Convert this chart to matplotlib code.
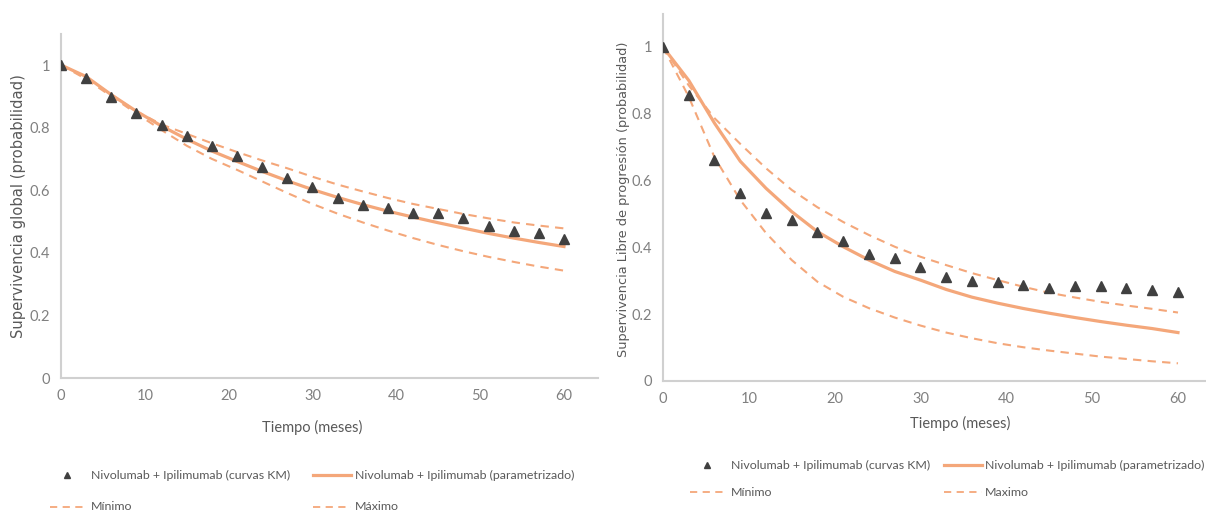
import matplotlib
matplotlib.use('Agg')
import matplotlib.pyplot as plt
from matplotlib.lines import Line2D

# months (every 3)
months = list(range(0, 61, 3))

# Overall survival (left)
os_km = [1.0, 0.959, 0.899, 0.848, 0.807, 0.773, 0.741, 0.709, 0.673, 0.638, 0.611,
         0.576, 0.553, 0.544, 0.528, 0.526, 0.510, 0.487, 0.471, 0.464, 0.443]
os_param = [1.0, 0.963, 0.905, 0.852, 0.805, 0.763, 0.725, 0.692, 0.660, 0.630, 0.602,
            0.577, 0.554, 0.533, 0.514, 0.496, 0.479, 0.462, 0.447, 0.433, 0.420]
os_max = [1.0, 0.960, 0.905, 0.852, 0.810, 0.780, 0.750, 0.722, 0.695, 0.670, 0.643,
          0.618, 0.596, 0.575, 0.556, 0.540, 0.524, 0.510, 0.497, 0.487, 0.478]
os_min = [1.0, 0.955, 0.900, 0.845, 0.792, 0.742, 0.700, 0.665, 0.628, 0.591, 0.556,
          0.525, 0.497, 0.471, 0.447, 0.425, 0.405, 0.387, 0.371, 0.356, 0.343]

# Progression-free survival (right)
pfs_km = [1.0, 0.856, 0.662, 0.562, 0.504, 0.482, 0.445, 0.420, 0.379, 0.369, 0.340,
          0.312, 0.299, 0.296, 0.287, 0.277, 0.283, 0.285, 0.278, 0.271, 0.266]
pfs_param = [1.0, 0.900, 0.772, 0.658, 0.577, 0.507, 0.447, 0.402, 0.362, 0.328, 0.302,
             0.274, 0.251, 0.233, 0.217, 0.203, 0.190, 0.178, 0.167, 0.157, 0.145]
pfs_max = [1.0, 0.885, 0.787, 0.710, 0.637, 0.572, 0.520, 0.476, 0.437, 0.402, 0.372,
           0.347, 0.323, 0.302, 0.282, 0.264, 0.250, 0.237, 0.226, 0.216, 0.205]
pfs_min = [1.0, 0.851, 0.670, 0.542, 0.443, 0.362, 0.297, 0.252, 0.218, 0.190, 0.166,
           0.145, 0.128, 0.113, 0.101, 0.091, 0.082, 0.073, 0.066, 0.059, 0.053]

yticks = [0, 0.2, 0.4, 0.6, 0.8, 1]
ytick_labels = ["0", "0.2", "0.4", "0.6", "0.8", "1"]
xticks = [0, 10, 20, 30, 40, 50, 60]

ORANGE = '#F4A77A'
DARK = '#404040'
GREY_TXT = '#808080'
LBL_TXT = '#595959'
SPINE = '#D0D0D0'
NARROW = ['Lato', 'DejaVu Sans']

W, H = 1206, 515
fig = plt.figure(figsize=(W / 100, H / 100), dpi=100)


def make_axes(rect, xmax, km, param, mx, mn, ylabel, ylabel_size, label_xy, xlabel_xy):
    ax = fig.add_axes(rect)
    ax.plot(months, mx, '--', color=ORANGE, lw=1.5, dashes=(4, 3))
    ax.plot(months, mn, '--', color=ORANGE, lw=1.5, dashes=(4, 3))
    ax.plot(months, param, '-', color=ORANGE, lw=2.3)
    ax.plot(months, km, '^', color=DARK, ms=6.5, ls='none', zorder=5)
    ax.set_xlim(0, xmax)
    ax.set_ylim(0, 1.1)
    ax.set_xticks(xticks)
    ax.set_yticks(yticks)
    ax.set_yticklabels(ytick_labels)
    for s in ['top', 'right']:
        ax.spines[s].set_visible(False)
    for s in ['left', 'bottom']:
        ax.spines[s].set_color(SPINE)
        ax.spines[s].set_linewidth(1.5)
    ax.tick_params(length=0, labelcolor=GREY_TXT, labelsize=10.5, pad=8)
    for t in ax.get_xticklabels() + ax.get_yticklabels():
        t.set_family(NARROW)
    fig.text(label_xy[0] / W, 1 - label_xy[1] / H, ylabel, rotation=90, ha='center',
             va='center', color=LBL_TXT, fontsize=ylabel_size, family='DejaVu Sans')
    fig.text(xlabel_xy[0] / W, 1 - xlabel_xy[1] / H, 'Tiempo (meses)', ha='center',
             va='center', color=LBL_TXT, fontsize=10.5, family=NARROW)
    return ax


# left: x0 px 61, 8.383 px/month; y0 px 378, 313 px/unit
ax1 = make_axes([61 / W, 1 - 378 / H, 64 * 8.383 / W, 1.1 * 313 / H], 64,
                os_km, os_param, os_max, os_min,
                'Supervivencia global (probabilidad)', 10.6, (19, 206), (312, 427))
# right: x0 px 663, 8.583 px/month; y0 px 381, 334 px/unit
ax2 = make_axes([663 / W, 1 - 381 / H, 63.3 * 8.583 / W, 1.1 * 334 / H], 63.3,
                pfs_km, pfs_param, pfs_max, pfs_min,
                'Supervivencia Libre de progresión (probabilidad)', 9.3, (623, 199), (960, 423))


def legend_item(x0, x1, y, kind, text, tx):
    yy = 1 - y / H
    if kind == 'marker':
        fig.add_artist(Line2D([(x0 + x1) / 2 / W], [yy], marker='^', color=DARK,
                              ms=5, ls='none'))
    elif kind == 'solid':
        fig.add_artist(Line2D([x0 / W, x1 / W], [yy, yy], color=ORANGE, lw=2.3))
    else:
        fig.add_artist(Line2D([x0 / W, x1 / W], [yy, yy], color=ORANGE, lw=1.3,
                              ls='--', dashes=(4, 3)))
    fig.text(tx / W, yy, text, ha='left', va='center', color=LBL_TXT, fontsize=8.9,
             family=NARROW)


# left legend
legend_item(50, 84, 475, 'marker', 'Nivolumab + Ipilimumab (curvas KM)', 91)
legend_item(313, 351, 475, 'solid', 'Nivolumab + Ipilimumab (parametrizado)', 355)
legend_item(50, 84, 507, 'dashed', 'Mínimo', 91)
legend_item(313, 351, 507, 'dashed', 'Máximo', 355)

# right legend
legend_item(690, 724, 465, 'marker', 'Nivolumab + Ipilimumab (curvas KM)', 731)
legend_item(944, 982, 465, 'solid', 'Nivolumab + Ipilimumab (parametrizado)', 985)
legend_item(690, 724, 492, 'dashed', 'Mínimo', 731)
legend_item(944, 982, 492, 'dashed', 'Maximo', 985)

fig.savefig('out.png', dpi=100)
